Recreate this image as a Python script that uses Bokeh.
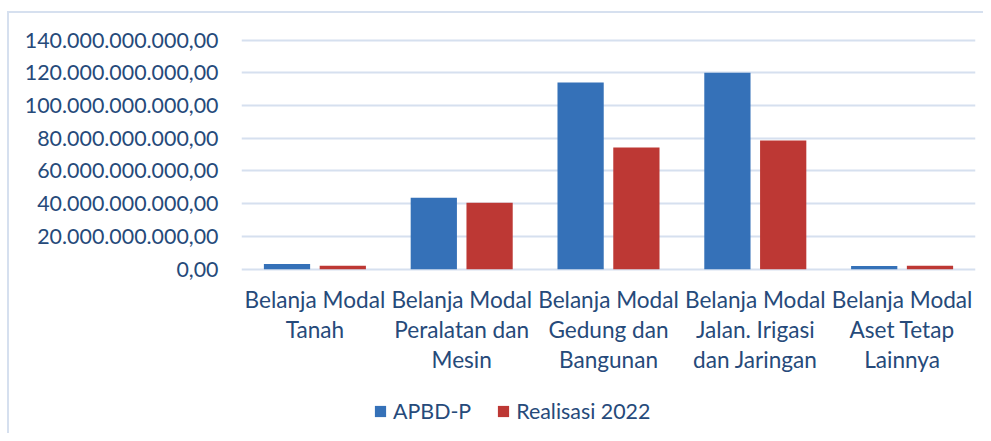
from bokeh.plotting import figure
from bokeh.models import (FactorRange, Range1d, FixedTicker, Legend, LegendItem,
                          ColumnDataSource)
from bokeh.core.properties import value
from bokeh.transform import dodge
from bokeh.embed import file_html
from bokeh.resources import INLINE

categories = ["Tanah", "Peralatan dan Mesin", "Gedung dan Bangunan",
              "Jalan. Irigasi dan Jaringan", "Aset Tetap Lainnya"]
category_labels = ["Belanja Modal\nTanah", "Belanja Modal\nPeralatan dan\nMesin",
                   "Belanja Modal\nGedung dan\nBangunan", "Belanja Modal\nJalan. Irigasi\ndan Jaringan",
                   "Belanja Modal\nAset Tetap\nLainnya"]
apbd_p = [3.2e9, 43.7e9, 114.1e9, 120.1e9, 1.9e9]
realisasi_2022 = [2.0e9, 40.6e9, 74.3e9, 78.6e9, 2.0e9]
series_names = ["APBD-P", "Realisasi 2022"]
y_ticks = [0, 20e9, 40e9, 60e9, 80e9, 100e9, 120e9, 140e9]
y_tick_labels = ["0,00", "20.000.000.000,00", "40.000.000.000,00", "60.000.000.000,00",
                 "80.000.000.000,00", "100.000.000.000,00", "120.000.000.000,00",
                 "140.000.000.000,00"]

FONT = "Lato"
FS = "21.4px"
FS_CAT = "22.6px"
TEXT = "#264A7A"
GRID = "#D6E0EF"
BLUE = "#3571B8"
RED = "#BD3834"

# layout geometry (pixels)
W, H = 983, 433
TOP, LEFT, RIGHT = 38, 241, 8
AXIS_PX = 229.0            # pixels from 0 to 140e9
unit_per_px = 140e9 / AXIS_PX
y_top = 141e9
frame_h = H - TOP
y_bottom = y_top - frame_h * unit_per_px

src = ColumnDataSource(dict(cat=categories, apbd=apbd_p, real=realisasi_2022))

p = figure(x_range=FactorRange(factors=categories, range_padding=0),
           y_range=Range1d(y_bottom, y_top),
           width=W, height=H, output_backend="svg", toolbar_location=None,
           min_border_left=LEFT, min_border_right=RIGHT, min_border_top=TOP, min_border_bottom=0)
p.outline_line_color = None
p.background_fill_color = "white"
p.border_fill_color = None
p.styles = {"box-shadow": "inset 7px 11px 0 0 white, inset 9px 13px 0 0 " + GRID}

r1 = p.vbar(x=dodge("cat", -0.19, range=p.x_range), top="apbd", width=0.315,
            source=src, fill_color=BLUE, line_color=None)
r2 = p.vbar(x=dodge("cat", 0.19, range=p.x_range), top="real", width=0.315,
            source=src, fill_color=RED, line_color=None)

# category labels (multi-line) below the zero line
lx, ly, lt = [], [], []
for c, lab in zip(categories, category_labels):
    for i, line in enumerate(lab.split("\n")):
        lx.append(c)
        ly.append(-(30.5 + 30 * i) * unit_per_px)
        lt.append(line)
p.text(x=lx, y=ly, text=lt, text_font=value(FONT), text_font_size=FS_CAT,
       text_color=TEXT, text_align="center", text_baseline="middle")

p.yaxis.ticker = FixedTicker(ticks=y_ticks)
p.yaxis.major_label_overrides = {t: l for t, l in zip(y_ticks, y_tick_labels)}
p.yaxis.axis_line_color = None
p.yaxis.major_tick_line_color = None
p.yaxis.minor_tick_line_color = None
p.yaxis.major_label_standoff = 17
p.yaxis.major_label_text_font = FONT
p.yaxis.major_label_text_font_size = FS
p.yaxis.major_label_text_color = TEXT

p.xaxis.visible = False
p.xgrid.grid_line_color = None
p.ygrid.grid_line_color = GRID
p.ygrid.grid_line_width = 2

legend = Legend(items=[LegendItem(label=series_names[0], renderers=[r1]),
                       LegendItem(label=series_names[1], renderers=[r2])],
                orientation="horizontal", location=(132, 9),
                padding=0, margin=0, spacing=25, label_standoff=6,
                glyph_width=14, glyph_height=14,
                label_text_font=FONT, label_text_font_size=FS,
                label_text_color=TEXT, background_fill_alpha=0, border_line_color=None)
p.add_layout(legend, "center")

open("out.html", "w").write(file_html(p, INLINE))
